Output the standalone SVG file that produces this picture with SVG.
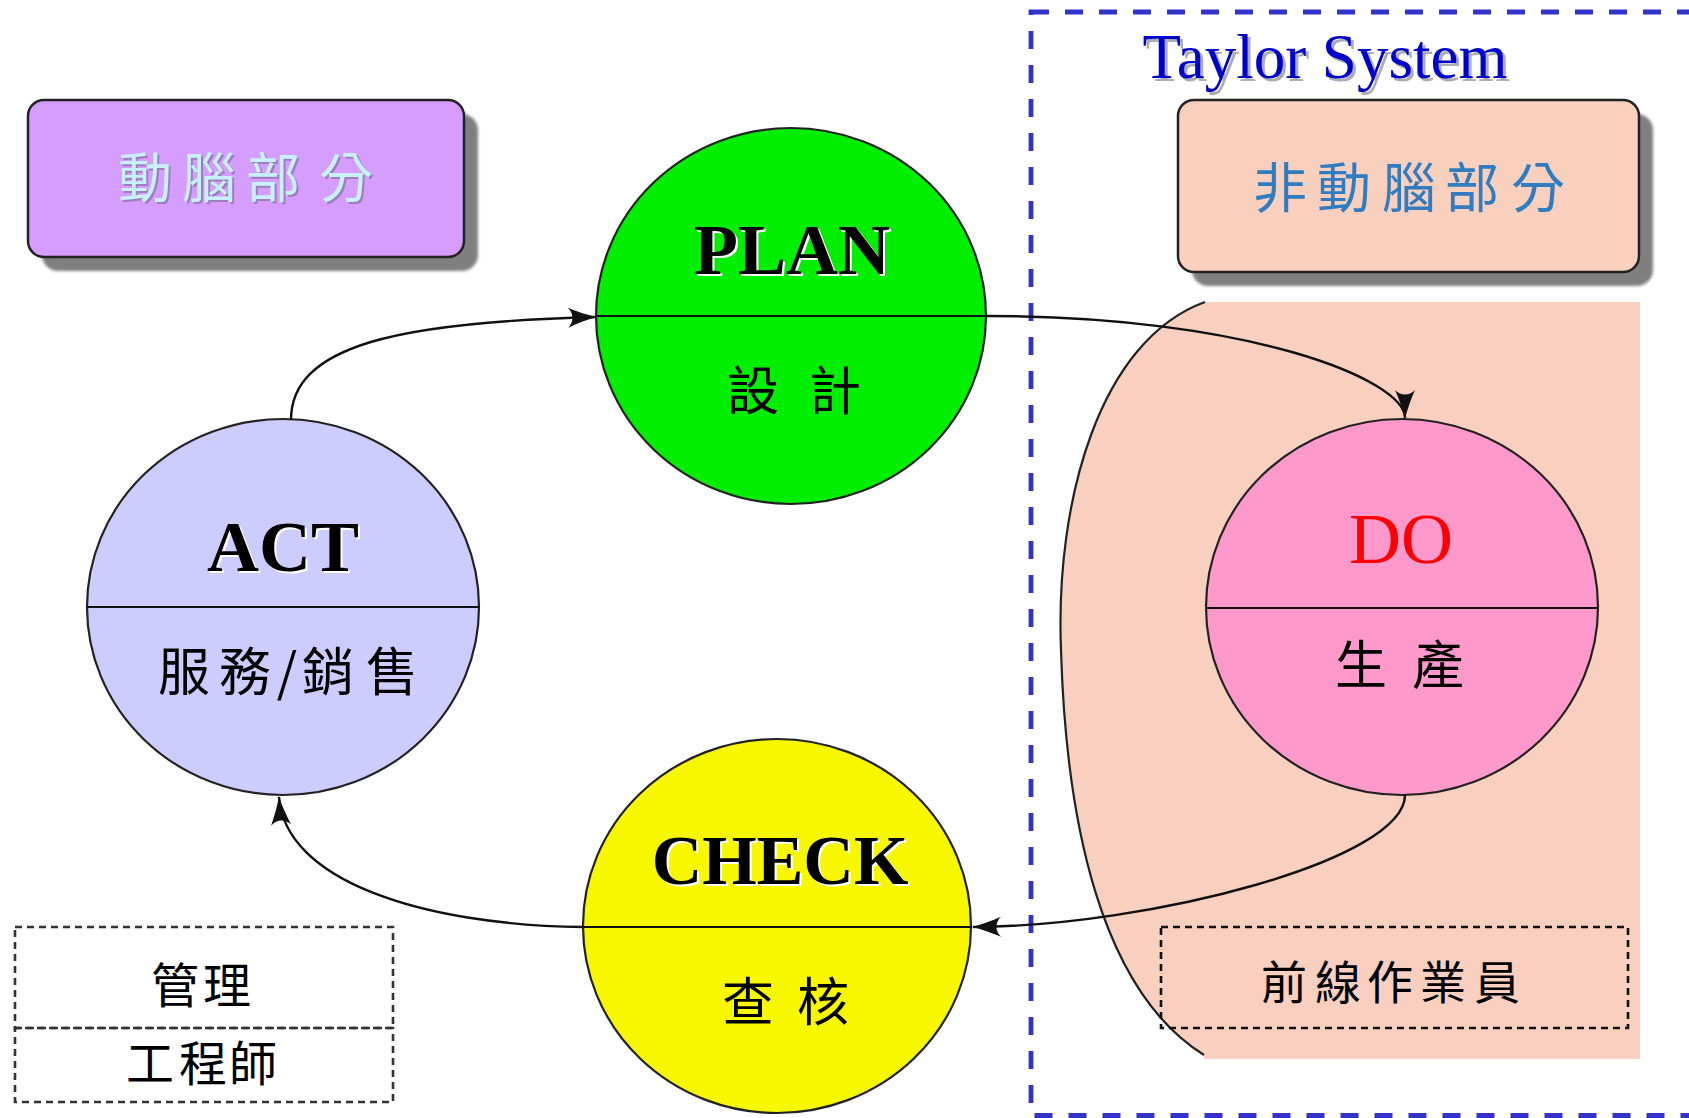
<svg xmlns="http://www.w3.org/2000/svg" width="1689" height="1118" viewBox="0 0 1689 1118">
  <style>
    .cjk { font-family: "Noto Sans CJK TC", "Noto Sans CJK SC", sans-serif; text-anchor: middle; }
    .latin { font-family: "Liberation Serif", "DejaVu Serif", serif; text-anchor: middle; }
    .bold { font-weight: bold; }
    .node-outline { stroke: #222; stroke-width: 2.2; }
    .divider { stroke: #111; stroke-width: 2.2; fill: none; }
    .edge { fill: none; stroke: #111; stroke-width: 2.4; marker-end: url(#stealth); }
    .halo { fill: #ffffff; }
    .dash-box { fill: none; stroke: #333; stroke-width: 2.6; stroke-dasharray: 7 5; }
    .shadow { fill: #7f7f7f; filter: url(#soft); }
  </style>
  <defs>
    <filter id="soft" x="-10%" y="-10%" width="120%" height="120%">
      <feGaussianBlur stdDeviation="1.6"/>
    </filter>
    <marker id="stealth" markerUnits="userSpaceOnUse" viewBox="-29 -11 31 22" markerWidth="31" markerHeight="22" refX="0" refY="0" orient="auto">
      <path d="M1,0 C-8,-2 -19,-6 -28,-10 C-22,-4 -22,4 -28,10 C-19,6 -8,2 1,0 Z" fill="#111"/>
    </marker>
  </defs>

  <rect width="1689" height="1118" fill="#ffffff"/>

  <!-- Taylor System frame -->
  <g id="taylor-frame">
    <rect x="1031" y="12" width="700" height="1103.5" fill="none" stroke="#3333cc" stroke-width="4.8" stroke-dasharray="18 16"/>
    <text class="latin" x="1328" y="81" font-size="63" fill="#8a8a9a" opacity="0.7">Taylor System</text>
    <text class="latin" x="1325" y="78" font-size="63" fill="#0000cc">Taylor System</text>
  </g>

  <!-- worker zone behind DO -->
  <g id="worker-zone">
    <path d="M1205,302 C1100,340 1055,500 1061,650 C1066,820 1100,990 1204,1055 L1204,1059 L1640,1059 L1640,302 Z" fill="#f9d0c0"/>
    <path d="M1205,302 C1100,340 1055,500 1061,650 C1066,820 1100,990 1204,1055" fill="none" stroke="#222" stroke-width="2.2"/>
  </g>

  <!-- thinking part -->
  <g id="thinking-box">
    <rect class="shadow" x="42" y="114" width="436" height="157" rx="16"/>
    <rect x="28" y="100" width="436" height="157" rx="16" fill="#d59dff" stroke="#222" stroke-width="2.5"/>
    <text class="cjk" font-size="54" fill="#7a6a8a" opacity="0.6">
      <tspan x="147" y="200">動</tspan><tspan x="211" y="200">腦</tspan><tspan x="275" y="200">部</tspan><tspan x="348" y="200">分</tspan>
    </text>
    <text class="cjk" font-size="54" fill="#c8f0ff">
      <tspan x="145" y="198">動</tspan><tspan x="209" y="198">腦</tspan><tspan x="273" y="198">部</tspan><tspan x="346" y="198">分</tspan>
    </text>
  </g>

  <!-- non-thinking part -->
  <g id="non-thinking-box">
    <rect class="shadow" x="1192" y="114" width="461" height="172" rx="16"/>
    <rect x="1178" y="100" width="461" height="172" rx="16" fill="#f9cfbe" stroke="#222" stroke-width="2.5"/>
    <text class="cjk" font-size="54" fill="#2f7cc0">
      <tspan x="1280" y="208">非</tspan><tspan x="1344" y="208">動</tspan><tspan x="1409" y="208">腦</tspan><tspan x="1472" y="208">部</tspan><tspan x="1538" y="208">分</tspan>
    </text>
  </g>

  <!-- PLAN -->
  <g id="plan">
    <ellipse class="node-outline" cx="791" cy="316" rx="195" ry="188" fill="#00ee00"/>
    <line class="divider" x1="596" y1="316" x2="986" y2="316"/>
    <text class="latin bold halo" x="794" y="276" font-size="72">PLAN</text>
    <text class="latin bold" x="792" y="274" font-size="72" fill="#000">PLAN</text>
    <text class="cjk" font-size="52" fill="#000">
      <tspan x="753" y="410">設</tspan><tspan x="835" y="410">計</tspan>
    </text>
  </g>

  <!-- ACT -->
  <g id="act">
    <ellipse class="node-outline" cx="283" cy="607" rx="196" ry="188" fill="#ccccff"/>
    <line class="divider" x1="87" y1="607" x2="479" y2="607"/>
    <text class="latin bold halo" x="285" y="573" font-size="72">ACT</text>
    <text class="latin bold" x="283" y="571" font-size="72" fill="#000">ACT</text>
    <text class="cjk" font-size="52" fill="#000">
      <tspan x="184" y="691">服</tspan><tspan x="245" y="691">務</tspan><tspan x="287" y="691">/</tspan><tspan x="328" y="691">銷</tspan><tspan x="392" y="691">售</tspan>
    </text>
  </g>

  <!-- DO -->
  <g id="do">
    <ellipse class="node-outline" cx="1402" cy="607" rx="196" ry="188" fill="#ff99cc"/>
    <line class="divider" x1="1206" y1="608" x2="1598" y2="608"/>
    <text class="latin" x="1401" y="563" font-size="72" fill="#ff0000">DO</text>
    <text class="cjk" font-size="52" fill="#000">
      <tspan x="1361" y="684">生</tspan><tspan x="1438" y="684">產</tspan>
    </text>
  </g>

  <!-- CHECK -->
  <g id="check">
    <ellipse class="node-outline" cx="777" cy="926" rx="194" ry="187" fill="#f7f700"/>
    <line class="divider" x1="583" y1="927" x2="972" y2="927"/>
    <text class="latin bold halo" x="782" y="886" font-size="70">CHECK</text>
    <text class="latin bold" x="780" y="884" font-size="70" fill="#000">CHECK</text>
    <text class="cjk" font-size="52" fill="#000">
      <tspan x="748" y="1021">查</tspan><tspan x="823" y="1021">核</tspan>
    </text>
  </g>

  <!-- management / engineers -->
  <g id="management">
    <rect class="dash-box" x="15" y="927" width="378" height="101"/>
    <text class="cjk" font-size="48" fill="#000">
      <tspan x="175" y="1003">管</tspan><tspan x="227" y="1003">理</tspan>
    </text>
  </g>
  <g id="engineers">
    <rect class="dash-box" x="15" y="1028" width="378" height="74"/>
    <text class="cjk" font-size="48" fill="#000">
      <tspan x="150" y="1081">工</tspan><tspan x="203" y="1081">程</tspan><tspan x="253" y="1081">師</tspan>
    </text>
  </g>

  <!-- front-line operators -->
  <g id="operators">
    <rect x="1161" y="927" width="467" height="101" fill="none" stroke="#111" stroke-width="2.6" stroke-dasharray="7 5"/>
    <text class="cjk" font-size="46" fill="#000">
      <tspan x="1284" y="999">前</tspan><tspan x="1338" y="999">線</tspan><tspan x="1390" y="999">作</tspan><tspan x="1443" y="999">業</tspan><tspan x="1497" y="999">員</tspan>
    </text>
  </g>

  <!-- cycle connectors -->
  <g id="connectors">
    <path class="edge" d="M291,420 C291,345 400,322 596,317"/>
    <path class="edge" d="M986,316 C1250,316 1405,380 1405,418"/>
    <path class="edge" d="M1405,795 C1405,860 1150,926 973,927"/>
    <path class="edge" d="M583,927 C420,925 285,880 279,797"/>
  </g>
</svg>
